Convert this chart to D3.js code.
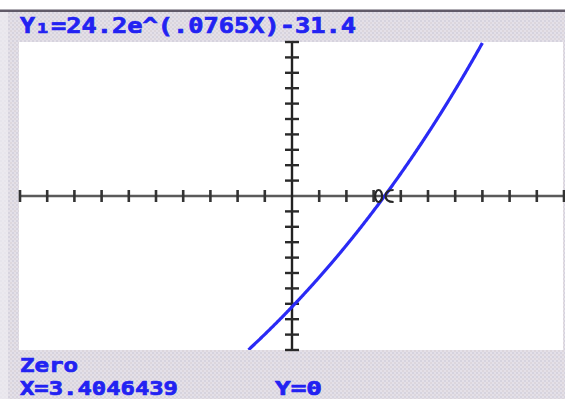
<!DOCTYPE html>
<html>
<head>
<meta charset="utf-8">
<script src="https://cdn.jsdelivr.net/npm/d3@7"></script>
<style>
  html, body { margin: 0; padding: 0; background: #ffffff; }
  svg { display: block; }
  .calc { font-family: "DejaVu Sans Mono", monospace; font-weight: bold; fill: #2222f2; stroke: #2222f2; stroke-width: 0.7; }
</style>
</head>
<body>
<svg id="screen" width="565" height="399"></svg>
<script>
// Graphing window (TI-style standard window)
const xWindow = [-10, 10];
const yWindow = [-10, 10];
const xTickValues = [-10, -9, -8, -7, -6, -5, -4, -3, -2, -1, 0, 1, 2, 3, 4, 5, 6, 7, 8, 9, 10];
const yTickValues = [-10, -9, -8, -7, -6, -5, -4, -3, -2, -1, 0, 1, 2, 3, 4, 5, 6, 7, 8, 9, 10];

// Y1 = a·e^(k·X) + c
const coefA = 24.2;
const coefK = 0.0765;
const coefC = -31.4;
const equationText = "=24.2e^(.0765X)-31.4";

// Zero found by the calculator
const zeroLabel = "Zero";
const zeroX = 3.4046439;
const zeroY = 0;

const svg = d3.select("#screen");
const W = 565, H = 399;

// dithered LCD-gray texture for the status bars
const defs = svg.append("defs");
const pat = defs.append("pattern")
  .attr("id", "dither").attr("width", 4).attr("height", 4)
  .attr("patternUnits", "userSpaceOnUse");
pat.append("rect").attr("width", 4).attr("height", 4).attr("fill", "#e4e0e8");
pat.append("rect").attr("x", 0).attr("y", 0).attr("width", 2).attr("height", 2).attr("fill", "#d6d3de");
pat.append("rect").attr("x", 2).attr("y", 2).attr("width", 2).attr("height", 2).attr("fill", "#dcd6dc");

const plot = { left: 19, right: 563, top: 42, bottom: 350 };

svg.append("rect").attr("width", W).attr("height", H).attr("fill", "#ffffff");
// status bars and frame
svg.append("rect").attr("x", 0).attr("y", 12).attr("width", W).attr("height", H - 12).attr("fill", "url(#dither)");
svg.append("rect").attr("x", 0).attr("y", 12).attr("width", 8).attr("height", H - 12).attr("fill", "#eeedf2").attr("opacity", 0.7);
svg.append("rect").attr("x", 0).attr("y", 9.5).attr("width", W).attr("height", 2.5).attr("fill", "#615a68");
// graph area
svg.append("rect")
  .attr("x", plot.left).attr("y", plot.top)
  .attr("width", plot.right - plot.left).attr("height", plot.bottom - plot.top)
  .attr("fill", "#ffffff");

const x = d3.scaleLinear().domain(xWindow).range([20, 564]);
const y = d3.scaleLinear().domain(yWindow).range([350, 42]);

const axes = svg.append("g");
// x axis
axes.append("line")
  .attr("x1", x(xWindow[0])).attr("x2", x(xWindow[1]))
  .attr("y1", y(0)).attr("y2", y(0))
  .attr("stroke", "#5a5a5a").attr("stroke-width", 2.6);
axes.selectAll(".xt").data(xTickValues.filter(v => v !== 0)).join("line")
  .attr("x1", d => x(d)).attr("x2", d => x(d))
  .attr("y1", y(0) - 6).attr("y2", y(0) + 6)
  .attr("stroke", "#333").attr("stroke-width", 2.6);
// y axis
axes.append("line")
  .attr("x1", x(0)).attr("x2", x(0))
  .attr("y1", y(yWindow[1])).attr("y2", y(yWindow[0]))
  .attr("stroke", "#222").attr("stroke-width", 2.4);
axes.selectAll(".yt").data(yTickValues.filter(v => v !== 0)).join("line")
  .attr("x1", x(0) - 7).attr("x2", x(0) + 7)
  .attr("y1", d => y(d)).attr("y2", d => y(d))
  .attr("stroke", "#2a2a2a").attr("stroke-width", 2.4);

// curve Y1 sampled across the window, clipped to the graph area
const f = X => coefA * Math.exp(coefK * X) + coefC;
const xs = d3.range(xWindow[0], xWindow[1] + 0.0001, 0.02);
const pts = xs.map(X => [X, f(X)]).filter(p => p[1] >= yWindow[0] && p[1] <= yWindow[1]);
defs.append("clipPath").attr("id", "gclip").append("rect")
  .attr("x", plot.left).attr("y", plot.top)
  .attr("width", plot.right - plot.left).attr("height", plot.bottom - plot.top);
svg.append("path")
  .datum(pts)
  .attr("clip-path", "url(#gclip)")
  .attr("fill", "none")
  .attr("stroke", "#2a2af5")
  .attr("stroke-width", 3.2)
  .attr("d", d3.line().x(d => x(d[0])).y(d => y(d[1])));

// trace cursor at the zero
const cx = x(zeroX), cy = y(zeroY);
const cur = svg.append("g").attr("fill", "none").attr("stroke", "#262626").attr("stroke-width", 2.2);
cur.append("ellipse").attr("cx", cx - 6).attr("cy", cy).attr("rx", 3.5).attr("ry", 6);
cur.append("path").attr("d", `M${cx + 9},${cy - 6} Q${cx + 1},${cy - 6} ${cx + 1},${cy} Q${cx + 1},${cy + 6} ${cx + 9},${cy + 6}`);

// header: function definition
svg.append("text").attr("class", "calc").attr("x", 20).attr("y", 33)
  .attr("font-size", 21).attr("textLength", 15).attr("lengthAdjust", "spacingAndGlyphs").text("Y");
svg.append("text").attr("class", "calc").attr("x", 37).attr("y", 33)
  .attr("font-size", 14).attr("textLength", 11).attr("lengthAdjust", "spacingAndGlyphs").text("1");
svg.append("text").attr("class", "calc").attr("x", 51).attr("y", 33)
  .attr("font-size", 21).attr("textLength", 305).attr("lengthAdjust", "spacingAndGlyphs").text(equationText);

// footer: zero result
svg.append("text").attr("class", "calc").attr("font-size", 19)
  .attr("x", 20).attr("y", 371.5)
  .attr("textLength", 58).attr("lengthAdjust", "spacingAndGlyphs").text(zeroLabel);
svg.append("text").attr("class", "calc").attr("font-size", 19)
  .attr("x", 20).attr("y", 394.5)
  .attr("textLength", 158).attr("lengthAdjust", "spacingAndGlyphs").text("X=" + zeroX);
svg.append("text").attr("class", "calc").attr("font-size", 19)
  .attr("x", 275).attr("y", 394.5)
  .attr("textLength", 47).attr("lengthAdjust", "spacingAndGlyphs").text("Y=" + zeroY);
</script>
</body>
</html>
